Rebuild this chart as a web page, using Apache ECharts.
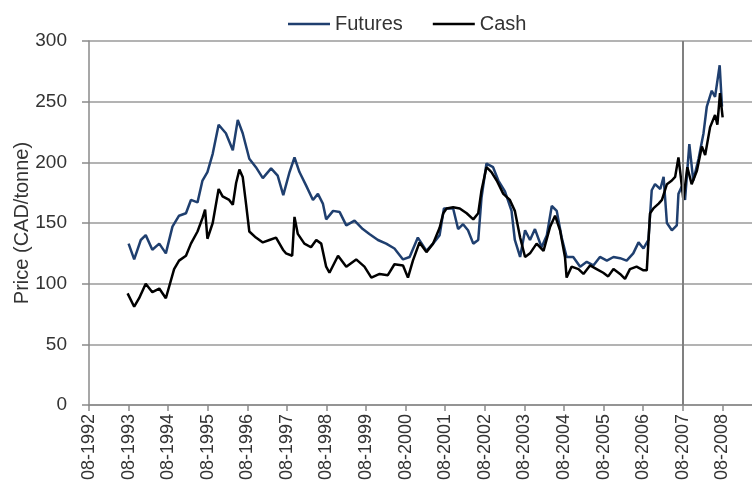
<!DOCTYPE html>
<html>
<head>
<meta charset="utf-8">
<script src="https://cdn.jsdelivr.net/npm/echarts@6/dist/echarts.min.js"></script>
<style>
html,body{margin:0;padding:0;background:#fff;}
#chart{width:752px;height:501px;}
</style>
</head>
<body>
<div id="chart"></div>
<script>
// x positions are months since 08-1992
var xTickLabels = ['08-1992','08-1993','08-1994','08-1995','08-1996','08-1997','08-1998','08-1999','08-2000','08-2001','08-2002','08-2003','08-2004','08-2005','08-2006','08-2007','08-2008'];
var seriesNames = ['Futures','Cash'];

var futuresMonths = [12,13.7,15.7,17.2,19.2,21.3,23.3,25.3,27.3,29.4,30.9,32.9,34.4,35.9,37.5,39.3,41.5,43.6,45.1,46.6,48.6,50.6,52.7,55.2,57.2,58.9,60.8,62.3,63.8,65.8,67.9,69.4,70.9,71.9,74,76,78,80.5,83,85,87.6,90.1,92.6,95.2,97.2,99.7,102.3,104.3,106.3,107.6,110.4,111.9,113.4,114.9,116.5,118,119,120.5,122.5,124.1,126.1,128.1,129.1,130.7,132.2,133.7,135.2,137.2,138.8,140.3,141.8,143.3,144.8,146.8,148.9,150.9,152.9,154.9,157,159,161,163,165,166.6,168.1,169.6,170.6,171.6,173.2,174.2,175.2,176.7,178.2,178.7,179.7,180.7,182,183.2,184.8,186.3,187.3,188.8,189.8,191.2,191.9];
var futuresPrices = [133,120,136,140,128,133,125,147,156,158,169,167,185,192,207,231,224,210,235,224,203,196,187,195,189,173,192,204,192,181,169,174,166,153,160,159,148,152,145,141,136,133,129,120,122,138,127,133,140,162,162,145,149,144,133,136,171,199,196,185,176,160,136,122,144,136,145,130,140,164,160,138,122,122,114,118,115,122,119,122,121,119,125,134,129,136,177,182,178,188,150,144,148,174,180,169,215,185,203,224,246,259,254,280,246];

var cashMonths = [11.7,13.7,15.2,17.2,19.2,21.3,23.3,25.8,27.3,29.4,30.9,32.9,34.4,35.2,35.9,37.5,39.3,40.5,42.5,43.6,44.6,45.6,46.6,47.6,48.6,50.6,52.7,54.7,56.7,58.8,59.7,61.6,62.3,63.3,65.3,67.3,68.9,70.4,71.9,72.9,75.5,78,81,83.5,85.6,88.1,90.6,92.6,95.2,96.7,98.2,100.2,102.3,104.3,106.3,107.4,108.4,110.4,112.4,114.5,116.5,118,119,120.5,122,123.6,125.6,127.6,129.1,130.7,132.2,133.7,135.7,137.8,139.8,141.3,142.8,144.3,144.8,146.3,148.4,149.9,151.9,153.9,155.9,157.4,159,161,162.5,164,166,168.1,169.1,170.1,171.1,172.7,173.7,175.2,176.7,177.7,178.7,179.2,180.2,181.4,182.7,184.3,185.8,186.8,188.3,189.8,190.5,191.3,192.1];
var cashPrices = [92,81,88,100,93,96,88,112,119,123,133,143,154,161,137,150,178,172,169,165,183,194,188,166,143,138,134,136,138,128,125,123,155,141,133,130,136,133,114,109,123,114,120,114,105,108,107,116,115,105,119,134,126,133,146,158,162,163,162,158,153,158,177,196,192,185,174,169,160,138,122,125,133,127,147,156,144,122,105,114,112,108,115,112,109,106,112,108,104,112,114,111,111,158,162,166,169,182,185,188,204,193,169,196,182,193,213,206,229,239,231,257,237];

var markerMonth = 180; // 08-2007 reference line

function zip(xs, ys){ return xs.map(function(x,i){ return [x, ys[i]]; }); }

var chart = echarts.init(document.getElementById('chart'));
var font = 'Liberation Sans, Arial, sans-serif';
chart.setOption({
  animation: false,
  textStyle: {fontFamily: font},
  legend: {
    top: 9, left: 283,
    icon: 'rect', itemWidth: 42, itemHeight: 2.5, itemGap: 30,
    textStyle: {fontSize: 20, color: '#333', fontFamily: font},
    data: seriesNames
  },
  grid: {left: 89, right: 0, top: 41, bottom: 96, containLabel: false, outerBoundsMode: 'none'},
  xAxis: {
    type: 'value', min: 0, max: 201, interval: 12,
    splitLine: {show: false},
    axisLine: {show: true, lineStyle: {color: '#8a8a8a', width: 1.5}},
    axisTick: {show: true, length: 6, lineStyle: {color: '#8a8a8a', width: 1.5}},
    axisLabel: {
      rotate: 90, margin: 9, fontSize: 18, color: '#333', fontFamily: font,
      showMaxLabel: false,
      formatter: function(v){ return (v % 12 === 0) ? (xTickLabels[v/12] || '') : ''; }
    }
  },
  yAxis: {
    type: 'value', min: 0, max: 300, interval: 50,
    name: 'Price (CAD/tonne)', nameLocation: 'middle', nameGap: 57, nameMoveOverlap: false,
    nameTextStyle: {fontSize: 20, color: '#333', fontFamily: font},
    splitLine: {show: true, lineStyle: {color: '#9a9a9a', width: 1.5}},
    axisLine: {show: true, lineStyle: {color: '#8a8a8a', width: 1.5}},
    axisTick: {show: true, length: 7, lineStyle: {color: '#8a8a8a', width: 1.5}},
    axisLabel: {margin: 22, fontSize: 19, color: '#333', fontFamily: font}
  },
  series: [
    {
      name: seriesNames[0], type: 'line', symbol: 'none',
      data: zip(futuresMonths, futuresPrices),
      lineStyle: {color: '#1f3f6f', width: 2.5}, itemStyle: {color: '#1f3f6f'},
      markLine: {
        silent: true, symbol: ['none','none'], label: {show: false},
        lineStyle: {color: '#808080', width: 2, type: 'solid'},
        data: [{xAxis: markerMonth}]
      }
    },
    {
      name: seriesNames[1], type: 'line', symbol: 'none',
      data: zip(cashMonths, cashPrices),
      lineStyle: {color: '#000', width: 2.5}, itemStyle: {color: '#000'}
    }
  ]
});
</script>
</body>
</html>
